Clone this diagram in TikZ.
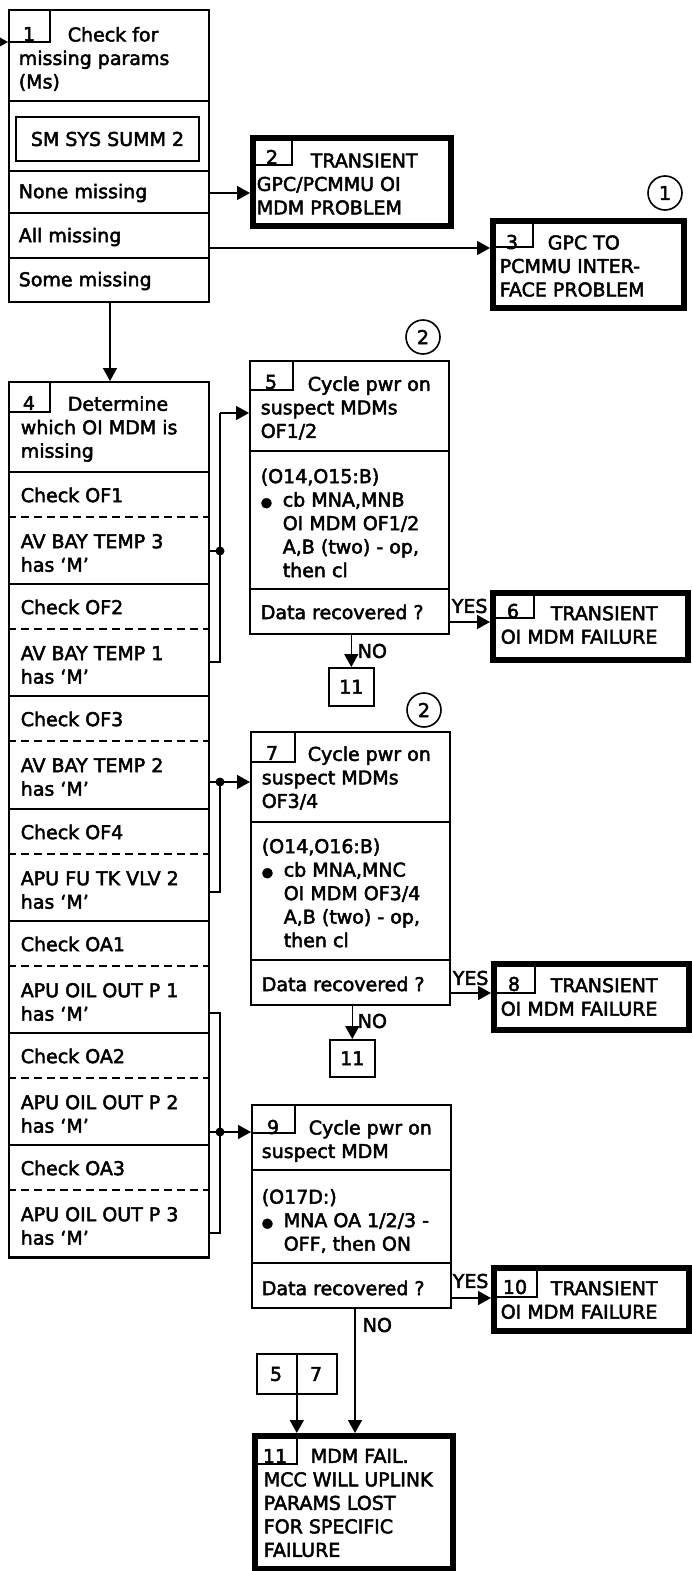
\documentclass[tikz,border=0pt]{standalone}
\usepackage{fontspec}
\setmainfont{DejaVu Sans}[FakeBold=2.5]
\usetikzlibrary{arrows.meta,positioning}
\newcommand{\cbdot}{{\fontsize{13}{13}\selectfont ●}}

\begin{document}
\begin{tikzpicture}[x=1pt,y=-1pt,line width=1.6pt,
  font=\fontsize{19}{23.5}\selectfont,
  txt/.style={anchor=west,inner sep=0pt,align=left},
  num/.style={anchor=center,inner sep=0pt},
  frame/.style={draw,anchor=north west,inner sep=0pt},
  term/.style={draw,line width=5.5pt,anchor=north west,inner sep=0pt},
  arr/.style={-{Triangle[length=13pt,width=14pt]}},
  jdot/.style={circle,fill,inner sep=0pt,minimum size=9pt},
  refc/.style={circle,draw,inner sep=0pt,minimum size=34pt}]
\useasboundingbox (0,0) rectangle (691,1571);

% box 1
\node[frame,minimum width=200pt,minimum height=292pt] (b1) at (8,9) {};
\draw (8,42) -- (50,42) -- (50,9);
\node[num] at (29,34) {1};
\node[txt] (t1) at (18,59) {\hspace*{49pt}Check for\\missing params\\(Ms)};
\draw (8,101) -- (208,101);
\node[draw,minimum width=183pt,minimum height=44pt,inner sep=0pt] (sm) at (107.5,139) {SM SYS SUMM 2};
\foreach \y in {171,213,258} \draw (8,\y) -- (208,\y);
\node[txt] (none) at (18,193) {None missing};
\node[txt] (all) at (18,237) {All missing};
\node[txt] (some) at (18,281) {Some missing};
\coordinate (in1) at (-8,42);
\draw[arr] (in1) -- (b1.west |- in1);

% boxes 2 and 3
\node[term,minimum width=198pt,minimum height=88pt] (b2) at (250,135) {};
\draw (252,165) -- (292,165) -- (292,137);
\node[num] at (272,157) {2};
\node[txt] (t2) at (256,184) {\hspace*{54pt}TRANSIENT\\GPC/PCMMU OI\\MDM PROBLEM};
\node[term,minimum width=191pt,minimum height=87pt] (b3) at (490,218) {};
\draw (493,247) -- (533,247) -- (533,220);
\node[num] at (512,242) {3};
\node[txt] (t3) at (499,266) {\hspace*{48pt}GPC TO\\PCMMU INTER-\\FACE PROBLEM};
\node[refc] (c1) at (665,193) {1};
\coordinate (allm) at (300,248);
\draw[arr] (b1.east |- none) -- (b2.west |- none);
\draw[arr] (b1.east |- allm) -- (b3.west |- allm);

% box 4
\node[frame,minimum width=200pt,minimum height=876pt] (b4) at (8,381) {};
\draw (8,412) -- (50,412) -- (50,381);
\node[num] at (29,403) {4};
\node[txt] (t4) at (20,429) {\hspace*{47pt}Determine\\which OI MDM is\\missing};
\draw (8,472) -- (208,472);
\foreach \i/\chk/\pname in {0/OF1/AV BAY TEMP 3,1/OF2/AV BAY TEMP 1,2/OF3/AV BAY TEMP 2,
    3/OF4/APU FU TK VLV 2,4/OA1/APU OIL OUT P 1,5/OA2/APU OIL OUT P 2,6/OA3/APU OIL OUT P 3} {
  \pgfmathsetmacro\ytop{round(472+112.2*\i)}
  \pgfmathsetmacro\ybot{round(472+112.2*(\i+1))}
  \draw[dash pattern=on 8pt off 5pt] (8,\ytop+45) -- (208,\ytop+45);
  \draw (8,\ybot) -- (208,\ybot);
  \node[txt] (chk\i) at (20,\ytop+23) {Check \chk};
  \node[txt] (par\i) at (20,\ytop+81) {\pname\\has `M'};
}
\coordinate (drop) at (110,340);
\draw[arr] (b1.south -| drop) -- (b4.north -| drop);

% box 5
\node[frame,minimum width=199pt,minimum height=273pt] (b5) at (249,360) {};
\draw (249,390) -- (293,390) -- (293,360);
\node[num] at (271,382) {5};
\node[txt] (t5) at (260,408) {\hspace*{47pt}Cycle pwr on\\suspect MDMs\\OF1/2};
\draw (249,451) -- (448,451);
\node[txt] (s5) at (260,523) {(O14,O15:B)\\\makebox[22pt][l]{\cbdot}cb MNA,MNB\\\hspace*{22pt}OI MDM OF1/2\\\hspace*{22pt}A,B (two) - op,\\\hspace*{22pt}then cl};
\draw (249,589) -- (448,589);
\node[txt] (d5) at (260,612) {Data recovered ?};
\node[refc] (c2) at (423,337) {2};
\node[term,minimum width=195pt,minimum height=67pt] (b6) at (490,590) {};
\draw (493,618) -- (534,618) -- (534,592);
\node[num] at (513,611) {6};
\node[txt] (t6) at (500,625) {\hspace*{50pt}TRANSIENT\\OI MDM FAILURE};
\node[frame,minimum width=45pt,minimum height=38pt] (r5) at (328,667) {11};
\coordinate (y5) at (460,622);
\draw[arr] (b5.east |- y5) -- (b6.west |- y5);
\node[txt] (yes5) at (451,606) {YES};
\draw[arr] (b5.south -| r5.north) -- (r5.north);
\node[txt] (no5) at (357,651) {NO};

% box 7
\node[frame,minimum width=199pt,minimum height=273pt] (b7) at (250,731) {};
\draw (250,762) -- (295,762) -- (295,731);
\node[num] at (272,753) {7};
\node[txt] (t7) at (261,778) {\hspace*{46pt}Cycle pwr on\\suspect MDMs\\OF3/4};
\draw (250,822) -- (449,822);
\node[txt] (s7) at (261,893) {(O14,O16:B)\\\makebox[22pt][l]{\cbdot}cb MNA,MNC\\\hspace*{22pt}OI MDM OF3/4\\\hspace*{22pt}A,B (two) - op,\\\hspace*{22pt}then cl};
\draw (250,960) -- (449,960);
\node[txt] (d7) at (261,984) {Data recovered ?};
\node[refc] (c3) at (424,710) {2};
\node[term,minimum width=195pt,minimum height=66pt] (b8) at (491,961) {};
\draw (494,993) -- (535,993) -- (535,963);
\node[num] at (514,984) {8};
\node[txt] (t8) at (500,997) {\hspace*{50pt}TRANSIENT\\OI MDM FAILURE};
\node[frame,minimum width=45pt,minimum height=37pt] (r7) at (329,1039) {11};
\coordinate (y7) at (460,993);
\draw[arr] (b7.east |- y7) -- (b8.west |- y7);
\node[txt] (yes7) at (452,978) {YES};
\draw[arr] (b7.south -| r7.north) -- (r7.north);
\node[txt] (no7) at (357,1021) {NO};

% box 9
\node[frame,minimum width=199pt,minimum height=203pt] (b9) at (251,1104) {};
\draw (251,1133) -- (295,1133) -- (295,1104);
\node[num] at (273,1127) {9};
\node[txt] (t9) at (261,1141) {\hspace*{47pt}Cycle pwr on\\suspect MDM};
\draw (251,1170) -- (450,1170);
\node[txt] (s9) at (261,1221) {(O17D:)\\\makebox[22pt][l]{\cbdot}MNA OA 1/2/3 -\\\hspace*{22pt}OFF,\ then ON};
\draw (251,1263) -- (450,1263);
\node[txt] (d9) at (261,1288) {Data recovered ?};
\node[term,minimum width=195pt,minimum height=63pt] (b10) at (491,1265) {};
\draw (494,1297) -- (537,1297) -- (537,1267);
\node[num] at (515,1287) {10};
\node[txt] (t10) at (500,1300) {\hspace*{50pt}TRANSIENT\\OI MDM FAILURE};
\coordinate (y9) at (460,1298);
\draw[arr] (b9.east |- y9) -- (b10.west |- y9);
\node[txt] (yes9) at (452,1281) {YES};

% brackets from box 4
\coordinate (j1t) at (220,413);
\coordinate (j1) at (220,551);
\coordinate (j1b) at (220,662);
\draw (b4.east |- j1) -- (j1);
\draw (b4.east |- j1b) -- (j1b) -- (j1t);
\draw[arr] (j1t) -- (b5.west |- j1t);
\node[jdot] (k1) at (j1) {};
\coordinate (j2) at (220,782);
\coordinate (j2b) at (220,892);
\draw[arr] (b4.east |- j2) -- (b7.west |- j2);
\draw (j2) -- (j2b) -- (b4.east |- j2b);
\node[jdot] (k2) at (j2) {};
\coordinate (j3t) at (220,1013);
\coordinate (j3) at (220,1132);
\coordinate (j3b) at (220,1233);
\draw (b4.east |- j3t) -- (j3t) -- (j3b) -- (b4.east |- j3b);
\draw[arr] (b4.east |- j3) -- (b9.west |- j3);
\node[jdot] (k3) at (j3) {};

% box 11
\node[term,minimum width=198pt,minimum height=133pt] (b11) at (252,1433) {};
\draw (254,1464) -- (297,1464) -- (297,1435);
\node[num] at (275,1456) {11};
\node[txt] (t11) at (263,1503) {\hspace*{47pt}MDM FAIL.\\MCC WILL UPLINK\\PARAMS LOST\\FOR SPECIFIC\\FAILURE};
\node[frame,minimum width=80pt,minimum height=40pt] (r57) at (256,1353) {};
\node[num] at (276,1374) {5};
\node[num] at (316,1374) {7};
\draw[arr] (r57.north) -- (b11.north -| r57.north);
\coordinate (n9) at (355,1320);
\draw[arr] (b9.south -| n9) -- (b11.north -| n9);
\node[txt] (no9) at (362,1325) {NO};
\end{tikzpicture}
\end{document}
